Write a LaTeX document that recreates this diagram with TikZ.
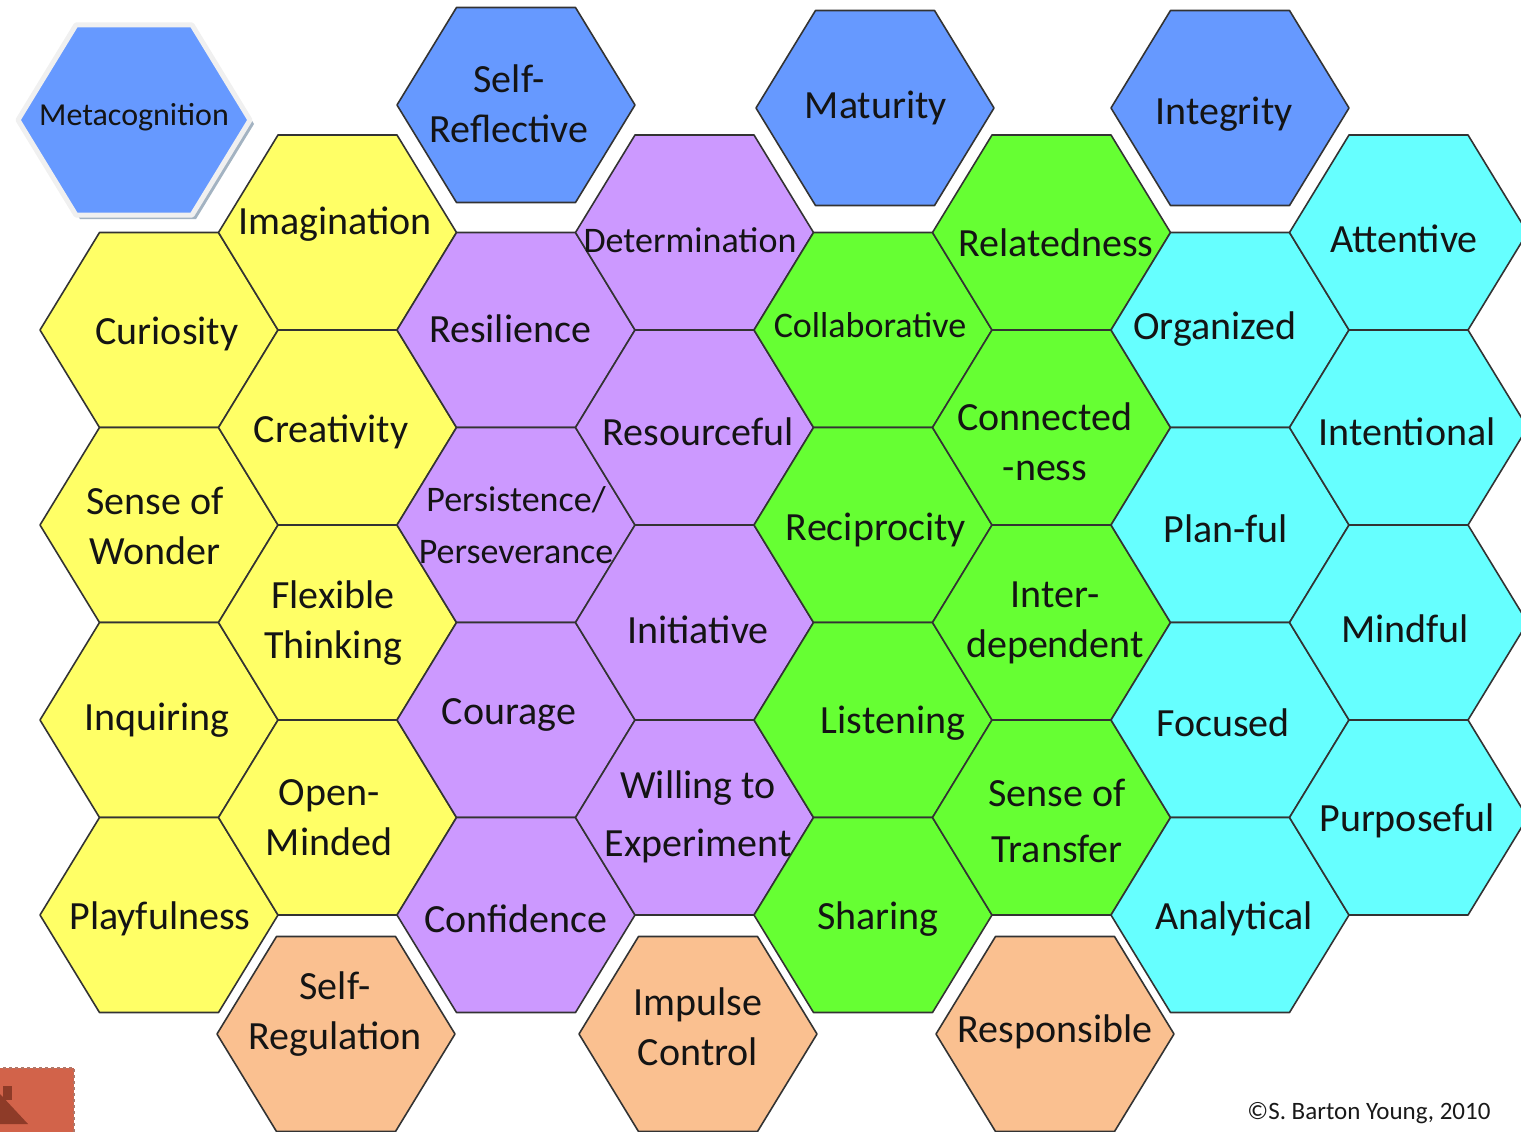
\documentclass[tikz,border=0pt]{standalone}
\usepackage{fontspec}
\setmainfont{Carlito}
\usetikzlibrary{positioning}
\definecolor{hexyellow}{HTML}{FFFF66}
\definecolor{hexpurple}{HTML}{CC99FF}
\definecolor{hexgreen}{HTML}{66FF33}
\definecolor{hexcyan}{HTML}{66FFFF}
\definecolor{hexblue}{HTML}{6699FF}
\definecolor{hexorange}{HTML}{FAC090}
\definecolor{hexedge}{HTML}{333333}
\definecolor{hexshadow}{HTML}{A3B3C2}
\definecolor{badgered}{HTML}{D2634A}
\definecolor{badgedark}{HTML}{8E3B28}

\begin{document}
\begin{tikzpicture}[
        x=1pt, y=-1pt,
        hexcell/.pic={\path[pic actions] (-119,0) -- (-59.5,-97.5) -- (59.5,-97.5) -- (119,0) -- (59.5,97.5) -- (-59.5,97.5) -- cycle;},
        cell/.style={draw=hexedge, line width=1.6pt, line join=round},
        trait/.style={align=center, inner sep=0pt, yshift=-2pt, text=black!92, font=\fontsize{40}{50}\selectfont},
        smalltrait/.style={trait, font=\fontsize{36}{52}\selectfont}
    ]
        \useasboundingbox (0,0) rectangle (1521,1132);
        \clip (0,0) rectangle (1521,1132);

        % Metacognition
        \pic[fill=hexshadow, scale=0.975] at (138,124) {hexcell};
        \pic[fill=hexblue, draw=gray!12, line width=5pt, line join=round, scale=0.975] at (134,120) {hexcell};

        % Blue row
        \pic[cell, fill=hexblue] at (516,105) {hexcell};
        \pic[cell, fill=hexblue] at (875,108) {hexcell};
        \pic[cell, fill=hexblue] at (1230,108) {hexcell};

        % Yellow
        \pic[cell, fill=hexyellow] at (159,330) {hexcell};
        \pic[cell, fill=hexyellow] at (159,525) {hexcell};
        \pic[cell, fill=hexyellow] at (159,720) {hexcell};
        \pic[cell, fill=hexyellow] at (159,915) {hexcell};
        \pic[cell, fill=hexyellow] at (337.5,232.5) {hexcell};
        \pic[cell, fill=hexyellow] at (337.5,427.5) {hexcell};
        \pic[cell, fill=hexyellow] at (337.5,622.5) {hexcell};
        \pic[cell, fill=hexyellow] at (337.5,817.5) {hexcell};

        % Purple
        \pic[cell, fill=hexpurple] at (516,330) {hexcell};
        \pic[cell, fill=hexpurple] at (516,525) {hexcell};
        \pic[cell, fill=hexpurple] at (516,720) {hexcell};
        \pic[cell, fill=hexpurple] at (516,915) {hexcell};
        \pic[cell, fill=hexpurple] at (694.5,232.5) {hexcell};
        \pic[cell, fill=hexpurple] at (694.5,427.5) {hexcell};
        \pic[cell, fill=hexpurple] at (694.5,622.5) {hexcell};
        \pic[cell, fill=hexpurple] at (694.5,817.5) {hexcell};

        % Green
        \pic[cell, fill=hexgreen] at (873,330) {hexcell};
        \pic[cell, fill=hexgreen] at (873,525) {hexcell};
        \pic[cell, fill=hexgreen] at (873,720) {hexcell};
        \pic[cell, fill=hexgreen] at (873,915) {hexcell};
        \pic[cell, fill=hexgreen] at (1051.5,232.5) {hexcell};
        \pic[cell, fill=hexgreen] at (1051.5,427.5) {hexcell};
        \pic[cell, fill=hexgreen] at (1051.5,622.5) {hexcell};
        \pic[cell, fill=hexgreen] at (1051.5,817.5) {hexcell};

        % Cyan
        \pic[cell, fill=hexcyan] at (1230,330) {hexcell};
        \pic[cell, fill=hexcyan] at (1230,525) {hexcell};
        \pic[cell, fill=hexcyan] at (1230,720) {hexcell};
        \pic[cell, fill=hexcyan] at (1230,915) {hexcell};
        \pic[cell, fill=hexcyan] at (1408.5,232.5) {hexcell};
        \pic[cell, fill=hexcyan] at (1408.5,427.5) {hexcell};
        \pic[cell, fill=hexcyan] at (1408.5,622.5) {hexcell};
        \pic[cell, fill=hexcyan] at (1408.5,817.5) {hexcell};

        % Orange row
        \pic[cell, fill=hexorange] at (336,1034) {hexcell};
        \pic[cell, fill=hexorange] at (698,1034) {hexcell};
        \pic[cell, fill=hexorange] at (1055,1034) {hexcell};

        % Labels
        \node[trait, font=\fontsize{32}{40}\selectfont] (metacognition) at (134,115) {Metacognition};
        \node[trait] (selfreflective) at (509,102) {Self-\\Reflective};
        \node[trait] (maturity) at (876,106) {Maturity};
        \node[trait] (integrity) at (1224,112) {Integrity};

        \node[trait] (curiosity) at (167,332) {Curiosity};
        \node[trait] (wonder) at (155,524) {Sense of\\Wonder};
        \node[trait] (inquiring) at (157,718) {Inquiring};
        \node[trait] (playfulness) at (160,917) {Playfulness};
        \node[trait] (imagination) at (335,222) {Imagination};
        \node[trait] (creativity) at (331,430) {Creativity};
        \node[trait] (flexible) at (333,621) {Flexible\\Thinking};
        \node[trait] (openminded) at (329,816) {Open-\\Minded};

        \node[trait] (resilience) at (510,327) {Resilience};
        \node[smalltrait] (persistence) at (516,523) {Persistence/\\Perseverance};
        \node[trait] (courage) at (509,713) {Courage};
        \node[trait] (confidence) at (516,917) {Confidence};
        \node[smalltrait] (determination) at (690,238) {Determination};
        \node[trait] (resourceful) at (698,430) {Resourceful};
        \node[trait] (initiative) at (698,628) {Initiative};
        \node[trait, font=\fontsize{40}{58}\selectfont] (willing) at (698,815) {Willing to\\Experiment};

        \node[smalltrait] (collaborative) at (870,323) {Collaborative};
        \node[trait] (reciprocity) at (876,528) {Reciprocity};
        \node[trait] (listening) at (893,721) {Listening};
        \node[trait] (sharing) at (878,917) {Sharing};
        \node[trait] (relatedness) at (1056,241) {Relatedness};
        \node[trait] (connectedness) at (1045,440) {Connected\\-ness};
        \node[trait] (interdependent) at (1055,621) {Inter-\\dependent};
        \node[trait, font=\fontsize{40}{56}\selectfont] (transfer) at (1057,819) {Sense of\\Transfer};

        \node[trait] (organized) at (1215,327) {Organized};
        \node[trait] (planful) at (1226,527) {Plan-ful};
        \node[trait] (focused) at (1223,721) {Focused};
        \node[trait] (analytical) at (1234,917) {Analytical};
        \node[trait] (attentive) at (1404,237) {Attentive};
        \node[trait] (intentional) at (1407,430) {Intentional};
        \node[trait] (mindful) at (1405,627) {Mindful};
        \node[trait] (purposeful) at (1407,819) {Purposeful};

        \node[trait] (selfregulation) at (335,1012) {Self-\\Regulation};
        \node[trait] (impulse) at (698,1025) {Impulse\\Control};
        \node[trait] (responsible) at (1055,1030) {Responsible};

        % Corner badge and credit
        \path[fill=badgered, draw=badgedark!70, dashed, line width=1.5pt] (-2,1068) rectangle (74,1140);
        \fill[badgedark] (0,1094) -- (28,1124) -- (0,1124) -- cycle;
        \fill[badgedark] (3,1086) rectangle (12,1100);
        \node[inner sep=0pt, text=black!90, font=\fontsize{25}{28}\selectfont] (credit) at (1369,1113) {©S. Barton Young, 2010};
    \end{tikzpicture}
\end{document}
